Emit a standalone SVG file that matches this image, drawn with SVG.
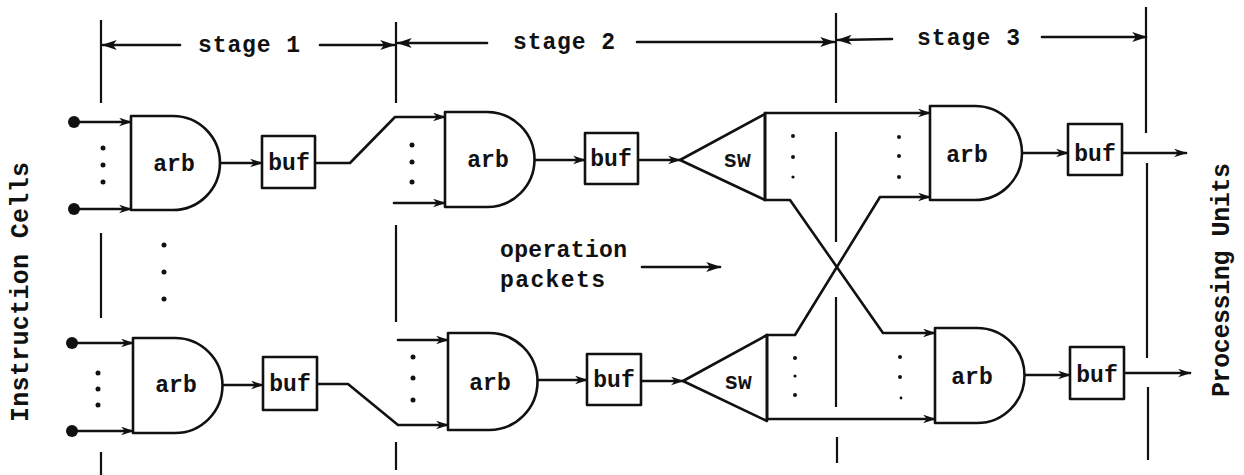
<svg xmlns="http://www.w3.org/2000/svg" width="1244" height="475" viewBox="0 0 1244 475">
<style>
.s{fill:none;stroke:#111;stroke-width:2.6;stroke-linejoin:round;stroke-linecap:round}
.b{fill:#fff;stroke:#111;stroke-width:2.6;stroke-linejoin:round}
.d{fill:none;stroke:#111;stroke-width:2.2}
.t{font-family:"Liberation Mono","DejaVu Sans Mono",monospace;font-weight:bold;font-size:23px;fill:#111}
.c{text-anchor:middle}
.dot{fill:#111}
.a{marker-end:url(#ah)}
.al{marker-end:url(#ahL)}
</style>
<defs>
<marker id="ah" viewBox="0 0 12 8" refX="11" refY="4" markerWidth="13" markerHeight="9" markerUnits="userSpaceOnUse" orient="auto"><path d="M0,0 L12,4 L0,8 L3.5,4 Z" fill="#111"/></marker>
<marker id="ahL" viewBox="0 0 12 8" refX="11" refY="4" markerWidth="16" markerHeight="10" markerUnits="userSpaceOnUse" orient="auto"><path d="M0,0 L12,4 L0,8 L3,4 Z" fill="#111"/></marker>
</defs>
<rect width="1244" height="475" fill="#fff"/>

<g id="stage-boundaries">
<path class="d" d="M101,20 V103 M101,233 V318 M101,452 V475"/>
<path class="d" d="M396,22 V103 M396,225 V322 M396,442 V470"/>
<path class="d" d="M836,13 V103 M836,132 V242 M836,297 V407 M837,437 V463"/>
<path class="d" d="M1146,7 V133 M1147,163 V358 M1148,387 V460"/>
</g>

<g id="stage-labels">
<line class="s al" x1="180" y1="45" x2="103" y2="45"/>
<line class="s al" x1="320" y1="45" x2="394" y2="45"/>
<text class="t" x="198" y="52" textLength="102">stage 1</text>
<line class="s al" x1="487" y1="43" x2="398" y2="43"/>
<line class="s al" x1="637" y1="42" x2="834" y2="42"/>
<text class="t" x="513" y="49" textLength="102">stage 2</text>
<line class="s al" x1="892" y1="39" x2="838" y2="40"/>
<line class="s al" x1="1042" y1="37" x2="1146" y2="37"/>
<text class="t" x="917" y="45" textLength="103">stage 3</text>
</g>

<g id="instruction-cells">
<text class="t c" transform="translate(28,292) rotate(-90)" x="0" y="0" textLength="260" style="font-size:25px">Instruction Cells</text>
</g>
<g id="processing-units">
<text class="t c" transform="translate(1229,280) rotate(-90)" x="0" y="0" textLength="234" style="font-size:25px">Processing Units</text>
</g>

<g id="operation-packets">
<text class="t" x="500" y="257" textLength="127">operation</text>
<text class="t" x="500" y="287" textLength="105">packets</text>
<line class="s al" x1="642" y1="267" x2="720" y2="267"/>
</g>

<g id="connectors">
<!-- stage 1 top inputs -->
<circle class="dot" cx="74" cy="122" r="6"/>
<circle class="dot" cx="74" cy="209" r="6"/>
<line class="s a" x1="78" y1="122" x2="131" y2="122"/>
<line class="s a" x1="78" y1="209" x2="131" y2="209"/>
<circle class="dot" cx="103" cy="148" r="2.5"/><circle class="dot" cx="103" cy="165" r="2.5"/><circle class="dot" cx="103" cy="182" r="2.5"/>
<line class="s a" x1="220" y1="163" x2="262" y2="163"/>
<polyline class="s a" points="315,163 350,163 395,117 445,117"/>
<!-- stage 1 bottom inputs -->
<circle class="dot" cx="72" cy="343" r="6"/>
<circle class="dot" cx="72" cy="431" r="6"/>
<line class="s a" x1="76" y1="343" x2="133" y2="343"/>
<line class="s a" x1="76" y1="431" x2="133" y2="431"/>
<circle class="dot" cx="98" cy="373" r="2.5"/><circle class="dot" cx="98" cy="389" r="2.5"/><circle class="dot" cx="98" cy="405" r="2.5"/>
<circle class="dot" cx="164" cy="245" r="2.5"/><circle class="dot" cx="164" cy="272" r="2.5"/><circle class="dot" cx="164" cy="299" r="2.5"/>
<line class="s a" x1="222" y1="385" x2="263" y2="385"/>
<polyline class="s a" points="317,384 348,384 398,425 448,425"/>
<!-- stage 2 top -->
<line class="s a" x1="394" y1="203" x2="445" y2="203"/>
<circle class="dot" cx="412" cy="145" r="2.5"/><circle class="dot" cx="412" cy="162" r="2.5"/><circle class="dot" cx="412" cy="182" r="2.5"/>
<line class="s a" x1="535" y1="160" x2="585" y2="160"/>
<line class="s a" x1="638" y1="160" x2="680" y2="160"/>
<!-- stage 2 bottom -->
<line class="s a" x1="398" y1="340" x2="448" y2="340"/>
<circle class="dot" cx="413" cy="357" r="2.5"/><circle class="dot" cx="413" cy="378" r="2.5"/><circle class="dot" cx="413" cy="400" r="2.5"/>
<line class="s a" x1="537" y1="380" x2="587" y2="380"/>
<line class="s a" x1="641" y1="381" x2="683" y2="381"/>
<!-- switch outputs / crossing -->
<line class="s a" x1="765" y1="113" x2="930" y2="113"/>
<polyline class="s a" points="765,200 790,200 883,333 935,333"/>
<polyline class="s a" points="767,335 795,335 880,197 930,197"/>
<line class="s a" x1="767" y1="419" x2="935" y2="419"/>
<circle class="dot" cx="793" cy="136" r="2"/><circle class="dot" cx="793" cy="157" r="2"/><circle class="dot" cx="793" cy="177" r="1.6"/>
<circle class="dot" cx="899" cy="137" r="2"/><circle class="dot" cx="899" cy="156" r="2"/><circle class="dot" cx="899" cy="177" r="2"/>
<circle class="dot" cx="795" cy="358" r="2"/><circle class="dot" cx="795" cy="376" r="1.6"/><circle class="dot" cx="795" cy="395" r="2"/>
<circle class="dot" cx="900" cy="357" r="2"/><circle class="dot" cx="900" cy="377" r="2"/><circle class="dot" cx="901" cy="398" r="1.4"/>
<!-- stage 3 -->
<line class="s a" x1="1022" y1="153" x2="1068" y2="153"/>
<line class="s a" x1="1122" y1="153" x2="1186" y2="153"/>
<line class="s a" x1="1024" y1="375" x2="1070" y2="375"/>
<line class="s a" x1="1124" y1="373" x2="1190" y2="373"/>
</g>

<g id="arb1a"><path class="b" d="M131,116 H173 A47,47 0 0 1 173,210 H131 Z"/><text class="t c" x="174" y="171">arb</text></g>
<g id="buf1a"><rect class="b" x="262" y="136" width="53" height="52"/><text class="t c" x="289" y="170">buf</text></g>
<g id="arb1b"><path class="b" d="M133,338 H175 A47.5,47.5 0 0 1 175,433 H133 Z"/><text class="t c" x="176" y="392">arb</text></g>
<g id="buf1b"><rect class="b" x="263" y="357" width="54" height="53"/><text class="t c" x="290" y="391">buf</text></g>

<g id="arb2a"><path class="b" d="M445,112 H487 A47.5,47.5 0 0 1 487,207 H445 Z"/><text class="t c" x="488" y="167">arb</text></g>
<g id="buf2a"><rect class="b" x="585" y="133" width="53" height="51"/><text class="t c" x="611" y="166">buf</text></g>
<g id="sw2a"><polygon class="b" points="680,160 765,114 765,200"/><text class="t c" x="737" y="167">sw</text></g>
<g id="arb2b"><path class="b" d="M448,333 H489 A48.5,48.5 0 0 1 489,430 H448 Z"/><text class="t c" x="490" y="390">arb</text></g>
<g id="buf2b"><rect class="b" x="587" y="354" width="54" height="51"/><text class="t c" x="614" y="387">buf</text></g>
<g id="sw2b"><polygon class="b" points="683,381 767,335 767,421"/><text class="t c" x="738" y="389">sw</text></g>
<g id="swbox-a"><path class="s" d="M765,113 V200"/></g>
<g id="swbox-b"><path class="s" d="M767,335 V419"/></g>

<g id="arb3a"><path class="b" d="M930,106 H975 A47,47 0 0 1 975,200 H930 Z"/><text class="t c" x="967" y="162">arb</text></g>
<g id="buf3a"><rect class="b" x="1068" y="124" width="54" height="51"/><text class="t c" x="1095" y="161">buf</text></g>
<g id="arb3b"><path class="b" d="M935,328 H977 A47.5,47.5 0 0 1 977,423 H935 Z"/><text class="t c" x="972" y="384">arb</text></g>
<g id="buf3b"><rect class="b" x="1070" y="347" width="54" height="52"/><text class="t c" x="1097" y="382">buf</text></g>
</svg>
